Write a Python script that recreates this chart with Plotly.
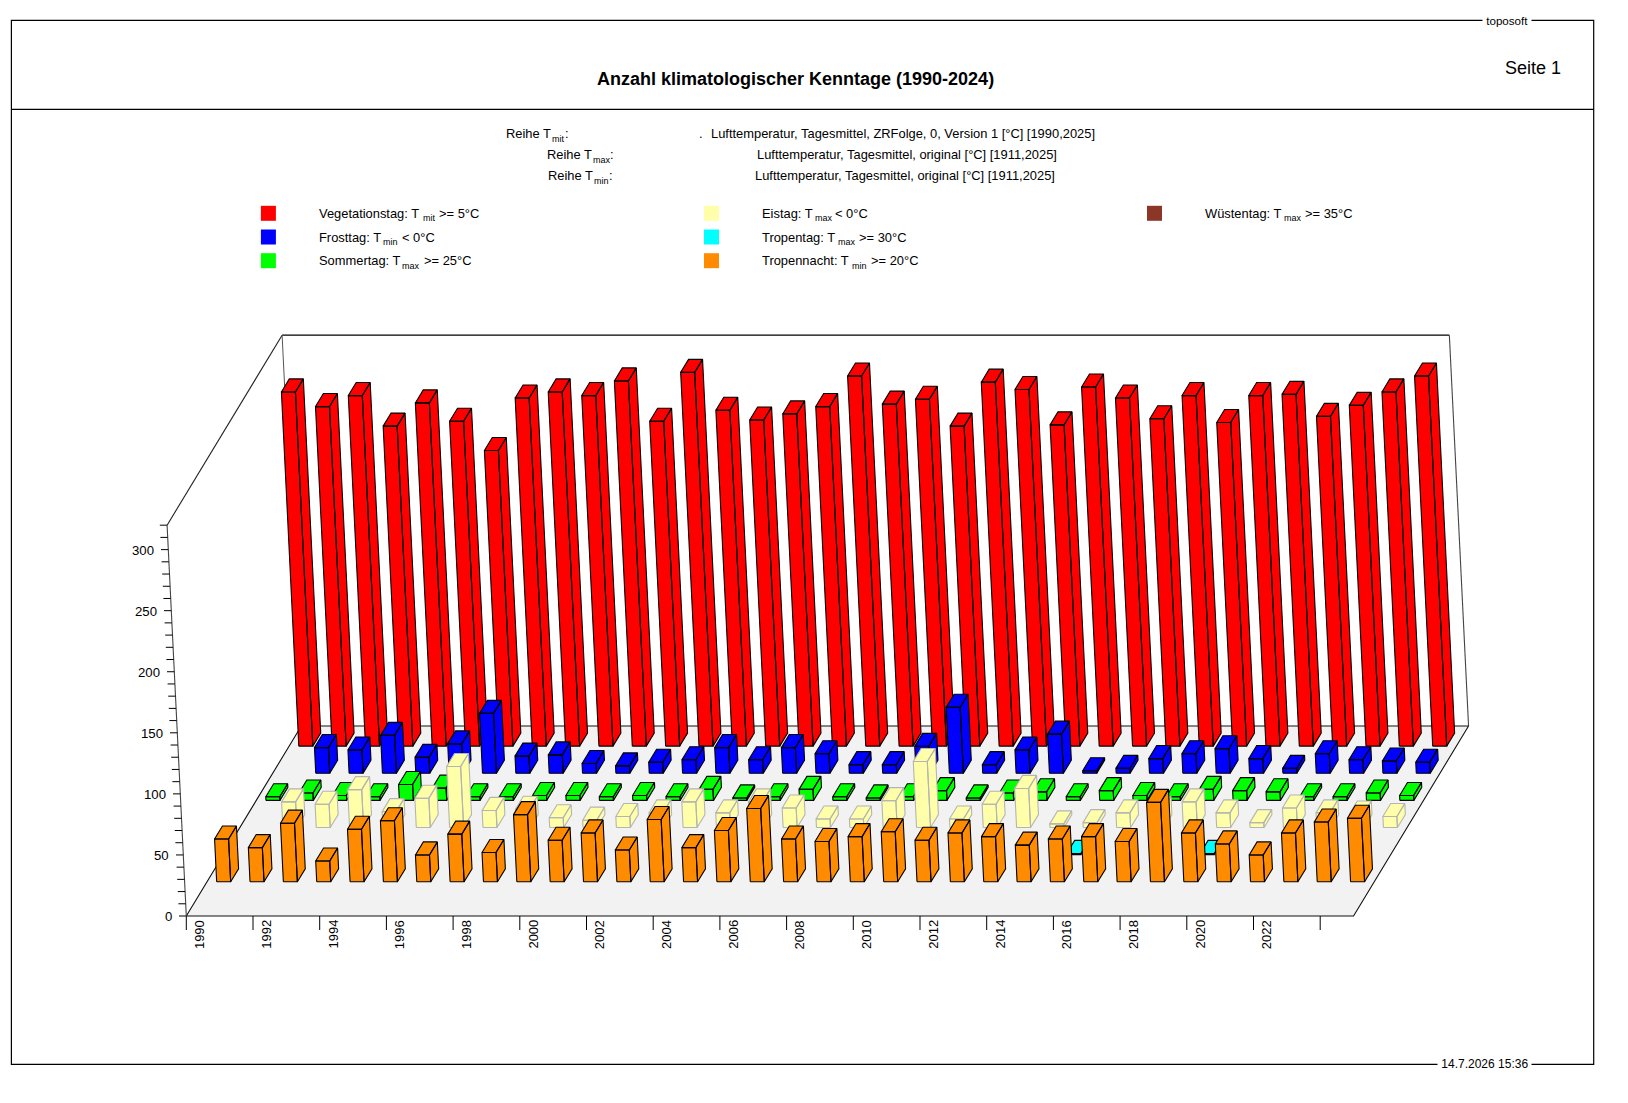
import plotly.graph_objects as go

years = list(range(1990, 2025))
vegetationstag = [290, 278, 287, 262, 281, 266, 242, 285, 290, 287, 299, 266, 306, 275, 267, 272, 278, 303,
                  280, 284, 262, 298, 292, 263, 294, 285, 268, 287, 265, 287, 288, 270, 279, 290, 303]
frosttag = [0, 21, 19, 31, 13, 24, 49, 14, 15, 8, 6, 9, 11, 21, 11, 21, 16, 7,
            7, 22, 54, 7, 19, 32, 2, 4, 12, 16, 20, 12, 4, 16, 11, 10, 9]
sommertag = [3, 6, 4, 3, 13, 10, 3, 3, 4, 4, 3, 4, 3, 9, 2, 3, 9, 3,
             2, 3, 8, 2, 6, 7, 3, 8, 4, 3, 9, 8, 7, 3, 3, 6, 4]
eistag = [0, 21, 19, 31, 13, 24, 50, 14, 15, 8, 6, 9, 12, 21, 12, 21, 16, 7,
          7, 22, 54, 7, 19, 32, 3, 4, 12, 15, 21, 12, 4, 16, 12, 11, 9]
tropentag = [0] * 25 + [1, 0, 0, 0, 1, 0, 0, 0, 0, 0]
tropennacht = [35, 28, 48, 17, 43, 50, 22, 39, 24, 55, 34, 40, 26, 51, 28, 42, 60, 35,
               33, 37, 41, 34, 40, 37, 30, 35, 37, 33, 65, 40, 31, 22, 40, 49, 52]
wuestentag = [0] * 35

y_ticks = list(range(0, 330, 10))
y_labels = [0, 50, 100, 150, 200, 250, 300]
x_tick_years = list(range(1990, 2026, 2))
x_label_years = list(range(1990, 2024, 2))

# row = position from the front of the floor, drawn from back to front
series = [
    ('Vegetationstag', vegetationstag, 6, '#ff0000', '#000000'),
    ('Frosttag', frosttag, 5, '#0000ff', '#000000'),
    ('Sommertag', sommertag, 4, '#00ff00', '#000000'),
    ('Eistag', eistag, 3, '#ffffaa', '#b4b4b4'),
    ('Tropentag', tropentag, 2, '#00ffff', '#000000'),
    ('Tropennacht', tropennacht, 1, '#ff8c00', '#000000'),
    ('Wuestentag', wuestentag, 0, '#8b3626', '#000000'),
]


# oblique projection of (year position, row depth, value) to page pixels
def project(t, d, z):
    return (186.3 + 33.35 * t + 16.43 * d - 0.06 * z,
            916.0 - 27.14 * d - 1.2213 * z)


def path(points):
    xs, ys = [], []
    for p in points:
        x, y = project(*p)
        xs.append(x)
        ys.append(y)
    return xs, ys


def bar_faces(i, row, value):
    t0, t1 = i + 0.29, i + 0.71
    d0, d1 = row + 0.26, row + 0.74
    front = [(t0, d0, 0), (t1, d0, 0), (t1, d0, value), (t0, d0, value), (t0, d0, 0)]
    side = [(t1, d0, 0), (t1, d1, 0), (t1, d1, value), (t1, d0, value), (t1, d0, 0)]
    top = [(t0, d0, value), (t1, d0, value), (t1, d1, value), (t0, d1, value), (t0, d0, value)]
    return [front, side, top]


fig = go.Figure()


def add_line(points, color='#000000', width=1.0, fill=None):
    xs, ys = path(points)
    fig.add_trace(go.Scatter(x=xs, y=ys, mode='lines', line=dict(color=color, width=width),
                             fill='toself' if fill else None, fillcolor=fill,
                             hoverinfo='skip', showlegend=False))


n_years = len(years)
add_line([(0, 0, 0), (n_years, 0, 0), (n_years, 7, 0), (0, 7, 0), (0, 0, 0)], '#111111', 1.1, '#f2f2f2')
add_line([(0, 0, 0), (0, 0, 320)], '#444444', 1.1)
add_line([(0, 0, 320), (0, 7, 320)], '#222222', 1.1)
add_line([(0, 7, 320), (n_years, 7, 320)], '#000000', 1.2)
add_line([(n_years, 7, 320), (n_years, 7, 0)], '#444444', 1.1)
add_line([(0, 7, 320), (0, 7, 0)], '#555555', 1.0)

# axis ticks
for v in y_ticks:
    x, y = project(0, 0, v)
    fig.add_trace(go.Scatter(x=[x - 7.3, x], y=[y, y], mode='lines', line=dict(color='#000000', width=1),
                             hoverinfo='skip', showlegend=False))
for yr in x_tick_years:
    x, y = project(yr - years[0], 0, 0)
    fig.add_trace(go.Scatter(x=[x, x], y=[y, y + 14], mode='lines', line=dict(color='#000000', width=1),
                             hoverinfo='skip', showlegend=False))

for name, values, row, color, edge in series:
    xs, ys = [], []
    for i, v in enumerate(values):
        if v <= 0:
            continue
        for face in bar_faces(i, row, v):
            fx, fy = path(face)
            xs += fx + [None]
            ys += fy + [None]
    if xs:
        fig.add_trace(go.Scatter(x=xs, y=ys, mode='lines', name=name, fill='toself', fillcolor=color,
                                 line=dict(color=edge, width=1.1), connectgaps=False,
                                 hoverinfo='skip', showlegend=False))

FONT = 'Liberation Sans'
notes = []


def text(x, y, s, size=12.9, anchor='left', angle=0, bg=None):
    notes.append(dict(x=x, y=y, xref='x', yref='y', text=s, showarrow=False, xanchor=anchor, yanchor='middle',
                      textangle=angle, font=dict(family=FONT, size=size, color='#000000'),
                      bgcolor=bg, borderpad=0))


# a label with a small index: main text, index, rest
def indexed(y, x0, main, x1, index, x2, rest):
    text(x0, y, main)
    text(x1, y + 5, index, 9)
    text(x2, y, rest)


for v in y_labels:
    x, y = project(0, 0, v)
    text(x - 13.5, y + 0.7, str(v), 13.2, 'right')
for yr in x_label_years:
    x, y = project(yr - years[0], 0, 0)
    text(x + 13.3, y + 18.5, str(yr), 13, 'center', -90)

text(795, 79, '<b>Anzahl klimatologischer Kenntage (1990-2024)</b>', 18, 'center')
text(1533, 68, 'Seite 1', 18, 'center')
text(1507, 20.3, ' toposoft ', 11.6, 'center', bg='#ffffff')
text(1484.5, 1064.3, ' 14.7.2026 15:36 ', 12, 'center', bg='#ffffff')

indexed(133.7, 505, 'Reihe T', 551, 'mit', 563.5, ':')
indexed(154.7, 545.7, 'Reihe T', 592, 'max', 608.5, ':')
indexed(175.7, 547, 'Reihe T', 593, 'min', 607.5, ':')
text(698, 133.7, '.')
text(710, 133.7, 'Lufttemperatur, Tagesmittel, ZRFolge, 0, Version 1 [°C] [1990,2025]')
text(756, 154.7, 'Lufttemperatur, Tagesmittel, original [°C] [1911,2025]')
text(754.4, 175.7, 'Lufttemperatur, Tagesmittel, original [°C] [1911,2025]')

legend_entries = [
    (268.4, 213.3, '#ff0000', 317.8, 'Vegetationstag: T', 421.6, 'mit', 437.7, '>= 5°C'),
    (268.4, 237.0, '#0000ff', 317.8, 'Frosttag: T', 381.6, 'min', 400.8, '< 0°C'),
    (268.4, 260.7, '#00ff00', 317.8, 'Sommertag: T', 401.4, 'max', 422.6, '>= 25°C'),
    (711.5, 213.3, '#ffffaa', 761.2, 'Eistag: T', 813.5, 'max', 833.7, '< 0°C'),
    (711.5, 237.0, '#00ffff', 761.2, 'Tropentag: T', 836.8, 'max', 858.1, '>= 30°C'),
    (711.5, 260.7, '#ff8c00', 761.2, 'Tropennacht: T', 850.9, 'min', 869.6, '>= 20°C'),
    (1154.5, 213.3, '#8b3626', 1204, 'Wüstentag: T', 1282.9, 'max', 1303.6, '>= 35°C'),
]
shapes = [
    dict(type='rect', x0=11.4, y0=20.3, x1=1593.7, y1=1064.3, line=dict(color='#000000', width=1.2), layer='below'),
    dict(type='line', x0=11.4, y0=109.3, x1=1593.7, y1=109.3, line=dict(color='#000000', width=1.2), layer='below'),
]
for cx, cy, color, x0, main, x1, index, x2, rest in legend_entries:
    shapes.append(dict(type='rect', x0=cx - 7.5, y0=cy - 7.5, x1=cx + 7.5, y1=cy + 7.5,
                       fillcolor=color, line=dict(width=0)))
    indexed(cy, x0, main, x1, index, x2, rest)

fig.update_layout(
    width=1628,
    height=1103,
    margin=dict(l=0, r=0, t=0, b=0),
    paper_bgcolor='#ffffff',
    plot_bgcolor='#ffffff',
    xaxis=dict(range=[0, 1628], visible=False, fixedrange=True),
    yaxis=dict(range=[1103, 0], visible=False, fixedrange=True),
    annotations=notes,
    shapes=shapes,
)

fig.write_html("out.html", config=dict(displayModeBar=False), post_script="document.body.style.margin='0';")
